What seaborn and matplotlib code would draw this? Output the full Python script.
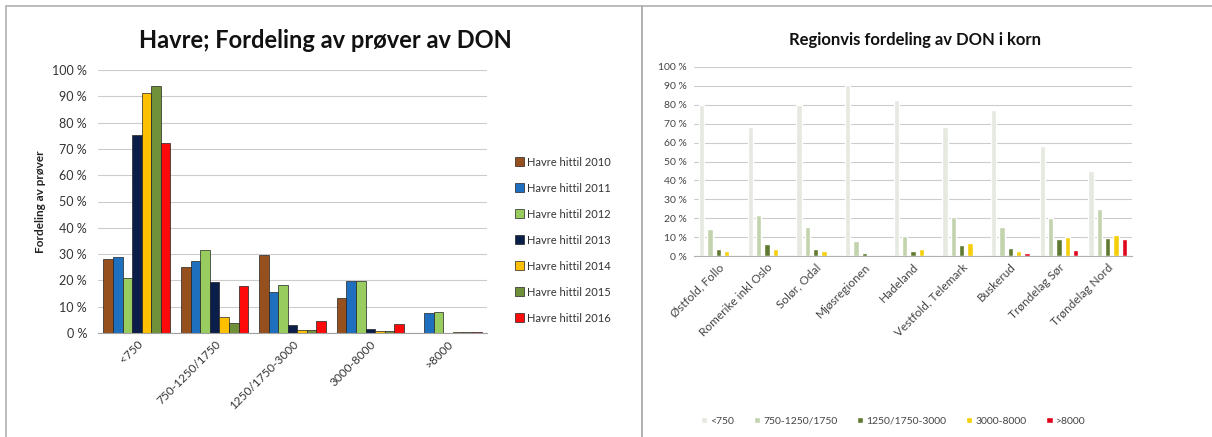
import matplotlib
matplotlib.use("Agg")
import matplotlib.pyplot as plt
from matplotlib.patches import Rectangle
from matplotlib.ticker import PercentFormatter
import seaborn as sns
import pandas as pd

# --- venstre diagram: Havre
klasser = ['<750', '750-1250/1750', '1250/1750-3000', '3000-8000', '>8000']
aar = ['Havre hittil 2010', 'Havre hittil 2011', 'Havre hittil 2012', 'Havre hittil 2013',
       'Havre hittil 2014', 'Havre hittil 2015', 'Havre hittil 2016']
havre_2010 = [28.1, 25.1, 29.6, 13.4, 0.0]
havre_2011 = [28.9, 27.3, 15.4, 19.7, 7.6]
havre_2012 = [20.9, 31.6, 18.1, 19.7, 8.1]
havre_2013 = [75.4, 19.5, 3.0, 1.5, 0.0]
havre_2014 = [91.4, 5.9, 1.0, 0.6, 0.2]
havre_2015 = [93.9, 3.7, 1.0, 0.6, 0.2]
havre_2016 = [72.4, 18.0, 4.6, 3.3, 0.5]
farger_havre = ['#96501e', '#1f6fbf', '#98cc5e', '#0b1e4a', '#ffc000', '#71903a', '#ff0a0a']

# --- høyre diagram: regioner
regioner = ['Østfold, Follo', 'Romerike inkl Oslo', 'Solør, Odal', 'Mjøsregionen', 'Hadeland',
            'Vestfold, Telemark', 'Buskerud', 'Trøndelag Sør', 'Trøndelag Nord']
nivaa = ['<750', '750-1250/1750', '1250/1750-3000', '3000-8000', '>8000']
under_750 = [80.0, 68.0, 80.0, 90.3, 82.4, 68.0, 77.0, 58.0, 45.0]
fra_750 = [14.1, 21.5, 15.3, 7.8, 10.6, 20.6, 15.3, 20.1, 25.0]
fra_1250 = [3.5, 6.5, 3.5, 1.6, 2.5, 5.6, 4.2, 8.8, 9.7]
fra_3000 = [2.5, 3.9, 2.5, 0.5, 3.9, 6.9, 2.5, 10.0, 11.0]
over_8000 = [0.0, 0.0, 0.0, 0.0, 0.0, 0.5, 1.8, 3.4, 9.0]
farger_region = ['#e6e9e0', '#c3d3ad', '#5f7a30', '#f4cf0a', '#e0061b']

havre = [havre_2010, havre_2011, havre_2012, havre_2013, havre_2014, havre_2015, havre_2016]
df1 = pd.DataFrame([(k, a, v[i]) for a, v in zip(aar, havre) for i, k in enumerate(klasser)],
                   columns=['klasse', 'aar', 'andel'])
reg = [under_750, fra_750, fra_1250, fra_3000, over_8000]
df2 = pd.DataFrame([(r, n, v[i]) for n, v in zip(nivaa, reg) for i, r in enumerate(regioner)],
                   columns=['region', 'nivaa', 'andel'])

sns.set_style('white')
plt.rcParams['font.family'] = ['Lato', 'DejaVu Sans']

fig = plt.figure(figsize=(12.12, 4.37), dpi=100)

# rammer
fig.add_artist(Rectangle((6/1212, -0.01), (642-6)/1212, 1 - 6/437 + 0.01, transform=fig.transFigure,
                         fill=False, edgecolor='#b0b0b0', lw=1.2))
fig.add_artist(Rectangle((642/1212, -0.01), 0.5, 1 - 6/437 + 0.01, transform=fig.transFigure,
                         fill=False, edgecolor='#b0b0b0', lw=1.2))

ax1 = fig.add_axes([98/1212, 1 - 333/437, (487-98)/1212, (333-70)/437])
sns.barplot(data=df1, x='klasse', y='andel', hue='aar', palette=farger_havre, width=0.86,
            saturation=1, edgecolor='#222222', linewidth=0.5, ax=ax1, legend=True)
ax1.set_ylim(0, 100)
ax1.set_yticks(range(0, 101, 10))
ax1.yaxis.set_major_formatter(PercentFormatter(decimals=0, symbol=' %'))
ax1.grid(axis='y', color='#cccccc', lw=0.8)
ax1.set_axisbelow(True)
for s in ['top', 'right', 'left']:
    ax1.spines[s].set_visible(False)
ax1.spines['bottom'].set_color('#a0a0a0')
ax1.set_xlabel('')
ax1.set_ylabel('Fordeling av prøver', fontsize=8.5, fontweight='bold', color='#222222', labelpad=4)
ax1.tick_params(axis='y', labelsize=9, colors='#333333', length=0, pad=8)
ax1.tick_params(axis='x', labelsize=8.5, colors='#333333', length=0, pad=4)
plt.setp(ax1.get_xticklabels(), rotation=45, ha='right', rotation_mode='anchor')
h, l = ax1.get_legend_handles_labels()
ax1.get_legend().remove()
fig.legend(h, l, loc='center left', bbox_to_anchor=(505/1212, 1 - 240/437), frameon=False,
           fontsize=8, labelspacing=1.35, handlelength=0.8, handleheight=0.8, handletextpad=0.3,
           labelcolor='#333333')
fig.text(325/1212, 1 - 40/437, 'Havre; Fordeling av prøver av DON', ha='center', va='center',
         fontsize=17, fontweight='bold', color='#111111')

ax2 = fig.add_axes([694/1212, 1 - 256/437, (1132-694)/1212, (256-67)/437])
sns.barplot(data=df2, x='region', y='andel', hue='nivaa', palette=farger_region, width=0.86, gap=0.35,
            saturation=1, ax=ax2, legend=True)
ax2.set_ylim(0, 100)
ax2.set_yticks(range(0, 101, 10))
ax2.yaxis.set_major_formatter(PercentFormatter(decimals=0, symbol=' %'))
ax2.grid(axis='y', color='#cccccc', lw=0.8)
ax2.set_axisbelow(True)
for s in ['top', 'right', 'left']:
    ax2.spines[s].set_visible(False)
ax2.spines['bottom'].set_color('#b0b0b0')
ax2.set_xlabel('')
ax2.set_ylabel('')
ax2.tick_params(axis='y', labelsize=7.5, colors='#444444', length=0, pad=5)
ax2.tick_params(axis='x', labelsize=8.5, colors='#444444', length=0, pad=4)
plt.setp(ax2.get_xticklabels(), rotation=45, ha='right', rotation_mode='anchor')
h, l = ax2.get_legend_handles_labels()
ax2.get_legend().remove()
fig.legend(h, l, loc='center', bbox_to_anchor=(893/1212, 1 - 421/437), frameon=False, ncol=5,
           fontsize=7.5, handlelength=0.6, handleheight=0.6, handletextpad=0.3, columnspacing=1.9,
           labelcolor='#444444')
fig.text(915/1212, 1 - 40/437, 'Regionvis fordeling av DON i korn', ha='center', va='center',
         fontsize=12, fontweight='bold', color='#111111')

fig.savefig('out.png', dpi=100)
